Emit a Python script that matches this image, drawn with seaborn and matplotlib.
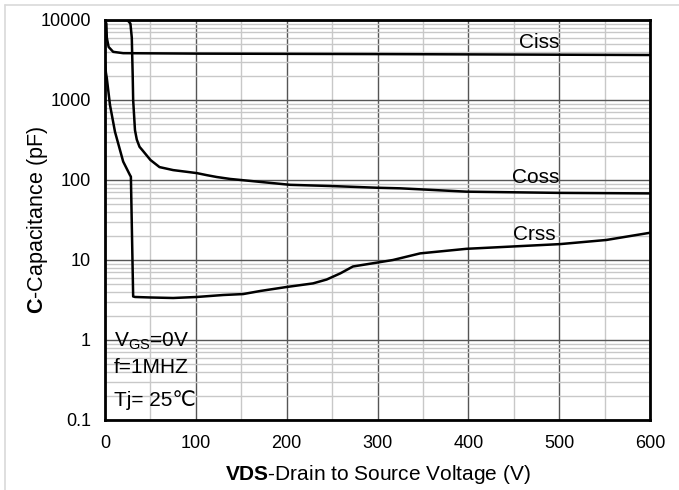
import numpy as np
import pandas as pd
import matplotlib
matplotlib.use("Agg")
import matplotlib.pyplot as plt
import seaborn as sns
from matplotlib.ticker import FixedLocator, LogLocator, NullFormatter
from matplotlib.lines import Line2D

# ---- data ----
ciss_v = [0, 1.5, 2, 4, 9, 20, 100, 300, 600]
ciss_c = [10000, 9000, 6000, 4600, 4000, 3850, 3800, 3750, 3650]

coss_v = [0, 22, 25, 28, 29.5, 30.5, 31, 33, 35, 38, 41, 50, 60, 75, 101, 112, 123, 138,
          204, 250, 300, 325, 398, 500, 600]
coss_c = [10000, 10000, 9900, 9000, 6000, 2000, 1000, 420, 320, 260, 237, 178, 145, 133,
          122, 115, 109, 103, 87, 84, 80, 78.7, 71.5, 69, 68]

crss_v = [0, 1, 2, 5.5, 11, 20, 27.5, 28.5, 31, 33, 50, 75, 101, 130, 152, 171, 200, 229,
          244, 259, 273, 300, 317, 347, 398, 501, 552, 600]
crss_c = [3000, 2200, 1870, 865, 400, 170, 115, 110, 3.5, 3.45, 3.4, 3.35, 3.45, 3.65, 3.75,
          4.1, 4.6, 5.1, 5.7, 6.8, 8.3, 9.3, 10, 12.1, 13.8, 15.8, 17.8, 21.9]

y_ticks = [0.1, 1, 10, 100, 1000, 10000]
y_labels = ["0.1", "1", "10", "100", "1000", "10000"]
x_ticks = [0, 100, 200, 300, 400, 500, 600]

sns.set_theme(style="white")
plt.rcParams["font.family"] = ["Liberation Sans", "DejaVu Sans"]
plt.rcParams["mathtext.fontset"] = "custom"
plt.rcParams["mathtext.rm"] = "Liberation Sans"
plt.rcParams["mathtext.it"] = "Liberation Sans"
plt.rcParams["mathtext.bf"] = "Liberation Sans:bold"

fig = plt.figure(figsize=(6.79, 4.90), dpi=100)
ax = fig.add_axes([105/679, 1-420/490, 545/679, 400/490])

frames = []
for name, v, c in [("Ciss", ciss_v, ciss_c), ("Coss", coss_v, coss_c), ("Crss", crss_v, crss_c)]:
    frames.append(pd.DataFrame({"V": v, "C": c, "s": name}))
df = pd.concat(frames, ignore_index=True)

sns.lineplot(data=df, x="V", y="C", units="s", estimator=None, color="black",
             linewidth=1.8, ax=ax, legend=False, sort=False, zorder=3)

ax.set_yscale("log")
ax.set_xlim(0, 600)
ax.set_ylim(0.1, 10000)

ax.yaxis.set_major_locator(FixedLocator(y_ticks))
ax.set_yticklabels(y_labels)
ax.yaxis.set_minor_locator(LogLocator(base=10, subs=np.arange(2, 10)))
ax.yaxis.set_minor_formatter(NullFormatter())
ax.xaxis.set_major_locator(FixedLocator(x_ticks))
ax.xaxis.set_minor_locator(FixedLocator([50, 150, 250, 350, 450, 550]))

ax.grid(which="major", color="#555555", linewidth=1.0, zorder=1)
ax.grid(which="minor", color="#c8c8c8", linewidth=1.0, zorder=0)
ax.set_axisbelow(True)

ax.tick_params(which="both", length=0, labelsize=13, colors="black")
ax.tick_params(axis="x", pad=11)
ax.tick_params(axis="y", pad=10)
for s in ax.spines.values():
    s.set_color("black")
    s.set_linewidth(2.0)

ax.set_xlabel(r"$\bf{VDS}$-Drain to Source Voltage (V)", fontsize=15, color="black")
ax.set_ylabel(r"$\bf{C}$-Capacitance (pF)", fontsize=15.5, color="black")
ax.xaxis.set_label_coords(0.5, -0.1075)
ax.yaxis.set_label_coords(-0.101, 0.5)

ax.text(478, 5300, "Ciss", fontsize=15, ha="center", va="center", color="black")
ax.text(474, 109, "Coss", fontsize=15, ha="center", va="center", color="black")
ax.text(473, 21.1, "Crss", fontsize=15, ha="center", va="center", color="black")

ax.text(10, 0.95, r"V$_{\mathrm{GS}}$=0V", fontsize=15, ha="left", va="center", color="black")
ax.text(10, 0.45, "f=1MHZ", fontsize=15, ha="left", va="center", color="black")
ax.text(10, 0.18, "Tj= 25\u2103", fontsize=15, ha="left", va="center", color="black",
        family=["Liberation Sans", "DejaVu Sans"])

# light outer frame lines (top and left)
fig.add_artist(Line2D([5/679, 5/679], [0, 1-5/490], transform=fig.transFigure,
                      color="#d9d9d9", linewidth=1.2))
fig.add_artist(Line2D([5/679, 1], [1-5/490, 1-5/490], transform=fig.transFigure,
                      color="#d9d9d9", linewidth=1.2))

fig.savefig("out.png", dpi=100)
